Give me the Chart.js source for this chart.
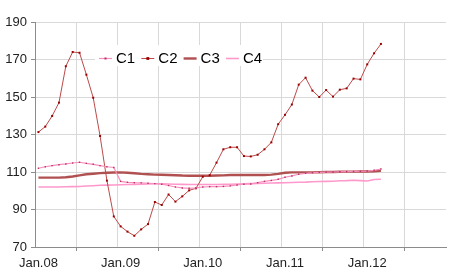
<!DOCTYPE html>
<html>
<head>
<meta charset="utf-8">
<script src="https://cdn.jsdelivr.net/npm/chart.js@4/dist/chart.umd.min.js"></script>
<style>
  body { margin: 0; background: #fff; }
  canvas { display: block; }
</style>
</head>
<body>
<canvas id="c" width="450" height="279"></canvas>
<script>
// monthly, Jan 2008 .. Dec 2012 (data stops Mar 2012)
const monthNames = ['Jan', 'Feb', 'Mar', 'Apr', 'May', 'Jun', 'Jul', 'Aug', 'Sep', 'Oct', 'Nov', 'Dec']
const years = ['08', '09', '10', '11', '12']
const yTicks = [70, 90, 110, 130, 150, 170, 190]

const c1 = [112, 112.8, 113.4, 113.9, 114.3, 114.8, 115.2, 114.6, 114.1, 113.4, 112.8, 112.4,
  105, 104.5, 104.3, 104.2, 104, 103.8, 103.5, 102.8, 102, 101.5, 101.3, 101.5,
  102, 102.2, 102.2, 102.3, 102.6, 103.1, 103.5, 103.6, 104.3, 105, 105.5, 106.1,
  107.2, 107.9, 108.8, 109.3, 109.6, 109.8, 109.9, 110, 110.1, 110.2, 110.3, 110.4,
  110.5, 110.9, 111.6]
const c2 = [131.3, 134.2, 139.9, 147, 166.4, 174, 173.6, 161.9, 149.6, 129.2, 105.4, 86.3,
  81, 78.2, 76, 79.4, 82.2, 94, 92.4, 98, 94.2, 97, 100.2, 101.3,
  107.5, 108.3, 115, 122.1, 123.2, 123.2, 118.5, 118.3, 119.2, 122.1, 125.8, 135.5,
  140.5, 146, 156.6, 160.3, 153.4, 150, 153.7, 150.2, 153.9, 154.6, 159.8, 159.4,
  167.4, 173.3, 178.3]
const c3 = [107, 107, 107, 107, 107.2, 107.6, 108.2, 108.8, 109.1, 109.4, 109.6, 109.7,
  109.8, 109.6, 109.3, 109, 108.8, 108.6, 108.5, 108.4, 108.3, 108.1, 108, 108,
  108, 108, 108.1, 108.2, 108.4, 108.4, 108.4, 108.4, 108.4, 108.4, 108.6, 109,
  109.6, 109.8, 109.8, 109.8, 109.8, 109.9, 110, 110, 110.1, 110.2, 110.2, 110.3,
  110.3, 110.4, 110.6]
const c4 = [102, 102, 102, 102, 102.1, 102.2, 102.3, 102.5, 102.7, 102.9, 103, 103.1,
  103.2, 103.3, 103.4, 103.5, 103.6, 103.7, 103.7, 103.6, 103.5, 103.4, 103.3, 103.3,
  103.3, 103.3, 103.3, 103.4, 103.5, 103.6, 103.7, 103.8, 103.9, 104, 104.1, 104.2,
  104.3, 104.4, 104.5, 104.6, 104.8, 104.9, 105, 105.1, 105.3, 105.4, 105.6, 105.4,
  105.2, 106, 106.1]

const labels = []
years.forEach(y => monthNames.forEach(m => labels.push(m + '.' + y)))

const FONT = 'Liberation Sans, Arial, sans-serif'

// legend drawn inside the plot, on a white box
const innerLegend = {
  id: 'innerLegend',
  afterDraw(chart) {
    const ctx = chart.ctx
    ctx.save()
    ctx.fillStyle = '#fff'
    ctx.fillRect(95, 45, 168, 21)
    ctx.font = '15px ' + FONT
    ctx.textBaseline = 'middle'
    const y = 58.5
    chart.data.datasets.forEach((ds, i) => {
      const x = 99 + i * 42.3
      ctx.strokeStyle = ds.borderColor
      ctx.lineWidth = ds.borderWidth
      ctx.beginPath()
      ctx.moveTo(x, y)
      ctx.lineTo(x + 13, y)
      ctx.stroke()
      if (ds.pointRadius > 0) {
        ctx.fillStyle = ds.pointBackgroundColor
        const r = ds.pointRadius
        ctx.fillRect(x + 6.5 - r, y - r, r * 2, r * 2)
      }
      ctx.fillStyle = '#000'
      ctx.fillText(ds.label, x + 17, y + 0.5)
    })
    ctx.restore()
  }
}

new Chart(document.getElementById('c'), {
  type: 'line',
  data: {
    labels: labels,
    datasets: [
      { label: 'C1', data: c1, borderColor: '#F590C0', borderWidth: 1.2,
        pointRadius: 1, pointStyle: 'rect', pointBackgroundColor: '#C03060', pointBorderWidth: 0 },
      { label: 'C2', data: c2, borderColor: '#BC4A4A', borderWidth: 1,
        pointRadius: 1.4, pointStyle: 'rect', pointBackgroundColor: '#9A0000', pointBorderWidth: 0 },
      { label: 'C3', data: c3, borderColor: '#B05050', borderWidth: 2.4, pointRadius: 0 },
      { label: 'C4', data: c4, borderColor: '#FF99CC', borderWidth: 1.6, pointRadius: 0 }
    ]
  },
  options: {
    responsive: false,
    animation: false,
    events: [],
    layout: { padding: { top: 22, right: 3, left: 0, bottom: 0 } },
    elements: { line: { tension: 0 } },
    plugins: { legend: { display: false }, tooltip: { enabled: false } },
    scales: {
      x: {
        type: 'category',
        offset: true,
        afterFit: s => { s.height = 32 },
        border: { color: '#8C8C8C', width: 1 },
        grid: {
          offset: true,
          drawTicks: true,
          tickLength: 4,
          color: c => (c.index % 6 === 0 && c.index > 0 && c.index < 60) ? '#D9D9D9' : 'rgba(0,0,0,0)',
          tickColor: c => (c.index % 12 === 6) ? '#8C8C8C' : 'rgba(0,0,0,0)'
        },
        ticks: {
          autoSkip: false,
          maxRotation: 0,
          padding: 5,
          color: '#222',
          font: { family: FONT, size: 13 },
          callback: (v, i) => i % 12 === 0 ? labels[i] : ''
        }
      },
      y: {
        min: 70,
        max: 190,
        afterFit: s => { s.width = 35 },
        afterBuildTicks: s => { s.ticks = yTicks.map(v => ({ value: v })) },
        border: { color: '#8C8C8C', width: 1 },
        grid: { color: '#D9D9D9', tickColor: '#8C8C8C', tickLength: 4 },
        ticks: {
          padding: 4,
          color: '#222',
          font: { family: FONT, size: 13 }
        }
      }
    }
  },
  plugins: [innerLegend]
})
</script>
</body>
</html>
